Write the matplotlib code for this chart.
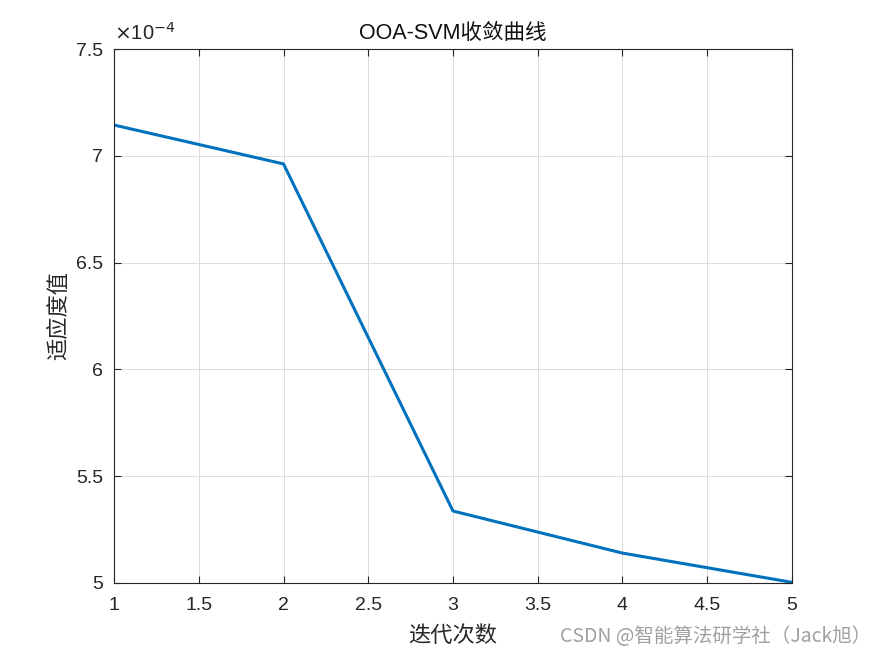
import matplotlib
matplotlib.use("Agg")
import matplotlib.pyplot as plt
from matplotlib.ticker import FuncFormatter, MultipleLocator

iterations = [1, 2, 3, 4, 5]
fitness = [7.144e-4, 6.962e-4, 5.337e-4, 5.140e-4, 5.003e-4]
title = "OOA-SVM收敛曲线"
xlabel = "迭代次数"
ylabel = "适应度值"
watermark = "CSDN @智能算法研学社（Jack旭）"

plt.rcParams['font.family'] = ['Liberation Sans', 'Noto Sans CJK SC', 'DejaVu Sans']

fig = plt.figure(figsize=(8.75, 6.56), dpi=100)
ax = fig.add_axes([0.1303, 0.1113, 0.7748, 0.814])
ax.plot(iterations, fitness, color='#0072BD', linewidth=2.2)
ax.set_xlim(1, 5)
ax.set_ylim(5e-4, 7.5e-4)
ax.xaxis.set_major_locator(MultipleLocator(0.5))
ax.yaxis.set_major_locator(MultipleLocator(0.5e-4))
ax.xaxis.set_major_formatter(FuncFormatter(lambda v, p: f"{v:g}"))
ax.yaxis.set_major_formatter(FuncFormatter(lambda v, p: f"{round(v*1e4, 3):g}"))
ax.grid(True, color='#DCDCDC', linewidth=0.7)
ax.set_axisbelow(True)
ax.tick_params(direction='in', top=True, right=True, labelsize=14, length=5,
               width=0.8, color='#262626', labelcolor='#262626')
ax.tick_params(axis='x', pad=10)
ax.tick_params(axis='y', pad=8)
for s in ax.spines.values():
    s.set_color('#262626')
    s.set_linewidth(0.8)
ax.text(0.0, 1.01, r"$\times$10$^{-4}$", transform=ax.transAxes, fontsize=14.5,
        color='#262626', ha='left', va='bottom')
ax.set_title(title, fontsize=15.5, color='#111111', pad=7)
ax.set_xlabel(xlabel, fontsize=16, color='#262626', labelpad=7,
              family=['Noto Sans CJK SC'])
ax.set_ylabel(ylabel, fontsize=16, color='#262626', labelpad=4,
              family=['Noto Sans CJK SC'])
fig.text(0.64, 0.014, watermark, fontsize=14, color='#A0A0A0', ha='left', va='bottom',
         family=['Noto Sans CJK SC', 'DejaVu Sans'])
fig.savefig("out.png", dpi=100, facecolor='white')
